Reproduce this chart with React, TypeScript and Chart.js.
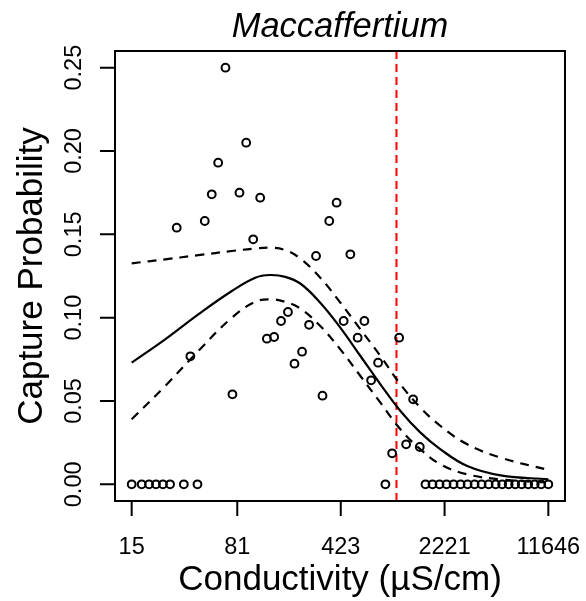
import React, { useEffect, useRef } from "react";
import { Chart, registerables } from "chart.js";

Chart.register(...registerables);

// ---- data ----
const chartTitle = "Maccaffertium";
const xAxisTitle = "Conductivity (µS/cm)";
const yAxisTitle = "Capture Probability";

const xTickValues = [15, 81, 423, 2221, 11646];
const xTickLabels = ["15", "81", "423", "2221", "11646"];
const yTickValues = [0, 0.05, 0.1, 0.15, 0.2, 0.25];
const yTickLabels = ["0.00", "0.05", "0.10", "0.15", "0.20", "0.25"];

// observed capture probabilities
const pointConductivity = [
  67.1, 93.4, 59.7, 53.9, 83.9, 116.8, 48.2, 30.8, 104.5, 396, 352, 285, 493,
  182, 163, 255, 443, 617, 554, 1075, 228, 202, 768, 687, 38.3, 130, 146, 75,
  316, 1344, 1202, 1495, 961,
  15, 17.6, 19.8, 22.1, 24.7, 27.7, 34.5, 42.9, 863,
  1637, 1831, 2049, 2291, 2563, 2867, 3207, 3587, 4012, 4488, 5020, 5570, 6180,
  6856, 7607, 8440, 9364, 10390, 11646,
];
const pointProbability = [
  0.25, 0.205, 0.193, 0.174, 0.175, 0.172, 0.158, 0.154, 0.147, 0.169, 0.158,
  0.137, 0.138, 0.1034, 0.098, 0.0957, 0.098, 0.098, 0.088, 0.088, 0.0796,
  0.0724, 0.073, 0.0624, 0.0768, 0.0874, 0.0884, 0.054, 0.0532, 0.051, 0.024,
  0.0224, 0.0186,
  0, 0, 0, 0, 0, 0, 0, 0, 0,
  0, 0, 0, 0, 0, 0, 0, 0, 0, 0, 0, 0, 0, 0, 0, 0, 0, 0, 0,
];

// fitted curve and confidence band
const curveConductivity = [
  15, 25.6, 43.5, 74.3, 107.9, 137.1, 174.3, 221.6, 305, 420, 579, 797, 1097,
  1511, 2081, 3190, 5435, 11646,
];
const fittedProbability = [
  0.073, 0.087, 0.102, 0.116, 0.124, 0.1256, 0.1245, 0.1205, 0.109, 0.094,
  0.077, 0.06, 0.044, 0.031, 0.021, 0.011, 0.0054, 0.003,
];
const upperProbability = [
  0.1326, 0.135, 0.1375, 0.14, 0.1415, 0.142, 0.1405, 0.1355, 0.124, 0.109,
  0.093, 0.077, 0.06, 0.046, 0.035, 0.024, 0.016, 0.0086,
];
const lowerProbability = [
  0.039, 0.059, 0.08, 0.1, 0.1095, 0.111, 0.1095, 0.1055, 0.095, 0.081, 0.065,
  0.049, 0.033, 0.021, 0.012, 0.006, 0.003, 0.001,
];

const thresholdConductivity = 1030;

const FONT = '"Liberation Sans", Arial, Helvetica, sans-serif';

const axesPlugin = {
  id: "rAxes",
  afterDraw(chart: any) {
    const { ctx, chartArea: a } = chart;
    const x = chart.scales.x;
    const y = chart.scales.y;
    ctx.save();
    ctx.strokeStyle = "#000";
    ctx.lineWidth = 2;
    ctx.strokeRect(a.left, a.top, a.right - a.left, a.bottom - a.top);
    ctx.beginPath();
    xTickValues.forEach((v) => {
      const px = x.getPixelForValue(v);
      ctx.moveTo(px, a.bottom);
      ctx.lineTo(px, a.bottom + 15);
    });
    yTickValues.forEach((v) => {
      const py = y.getPixelForValue(v);
      ctx.moveTo(a.left, py);
      ctx.lineTo(a.left - 15, py);
    });
    ctx.stroke();

    ctx.fillStyle = "#000";
    ctx.font = `23.5px ${FONT}`;
    ctx.textAlign = "center";
    ctx.textBaseline = "alphabetic";
    xTickValues.forEach((v, i) => {
      ctx.fillText(xTickLabels[i], x.getPixelForValue(v), a.bottom + 52.5);
    });
    yTickValues.forEach((v, i) => {
      const py = y.getPixelForValue(v);
      ctx.save();
      ctx.translate(a.left - 34, py);
      ctx.rotate(-Math.PI / 2);
      ctx.fillText(yTickLabels[i], 0, 0);
      ctx.restore();
    });

    const cx = (a.left + a.right) / 2;
    const cy = (a.top + a.bottom) / 2;
    ctx.font = `35px ${FONT}`;
    ctx.fillText(xAxisTitle, cx, a.bottom + 89);
    ctx.save();
    ctx.translate(41.5, cy);
    ctx.rotate(-Math.PI / 2);
    ctx.fillText(yAxisTitle, 0, 0);
    ctx.restore();

    ctx.font = `italic 34.5px ${FONT}`;
    ctx.fillText(chartTitle, cx, 36.7);
    ctx.restore();
  },
};

export default function App() {
  const ref = useRef<HTMLCanvasElement | null>(null);

  useEffect(() => {
    if (!ref.current) return;
    const points = pointConductivity.map((c, i) => ({ x: c, y: pointProbability[i] }));
    const fitted = curveConductivity.map((c, i) => ({ x: c, y: fittedProbability[i] }));
    const upper = curveConductivity.map((c, i) => ({ x: c, y: upperProbability[i] }));
    const lower = curveConductivity.map((c, i) => ({ x: c, y: lowerProbability[i] }));
    const yMin = -0.01;
    const yMax = 0.26;
    const threshold = [
      { x: thresholdConductivity, y: yMin },
      { x: thresholdConductivity, y: yMax },
    ];

    const lineCommon = {
      type: "line",
      borderColor: "#000",
      borderWidth: 2.2,
      pointRadius: 0,
      tension: 0.4,
      fill: false,
    };

    const chart = new Chart(ref.current, {
      type: "scatter",
      data: {
        datasets: [
          {
            type: "scatter",
            data: points,
            pointStyle: "circle",
            pointRadius: 3.9,
            pointBorderWidth: 2,
            borderColor: "#000",
            backgroundColor: "rgba(0,0,0,0)",
          } as any,
          { ...lineCommon, data: fitted } as any,
          { ...lineCommon, data: upper, borderDash: [9, 7] } as any,
          { ...lineCommon, data: lower, borderDash: [9, 7] } as any,
          {
            type: "line",
            data: threshold,
            borderColor: "#ff0000",
            borderWidth: 2,
            borderDash: [8, 5],
            pointRadius: 0,
            fill: false,
          },
        ],
      },
      options: {
        animation: false,
        responsive: false,
        devicePixelRatio: 1,
        layout: { padding: { left: 115, right: 21, top: 51, bottom: 100 } },
        plugins: { legend: { display: false }, tooltip: { enabled: false }, title: { display: false } },
        scales: {
          x: { type: "logarithmic", min: 11.494, max: 15198, display: false },
          y: { type: "linear", min: yMin, max: yMax, display: false },
        },
      },
      plugins: [axesPlugin],
    });
    return () => chart.destroy();
  }, []);

  return (
    <div style={{ position: "absolute", left: 0, top: 0, width: 586, height: 601, background: "#fff" }}>
      <canvas ref={ref} width={586} height={601} style={{ display: "block" }} />
    </div>
  );
}
